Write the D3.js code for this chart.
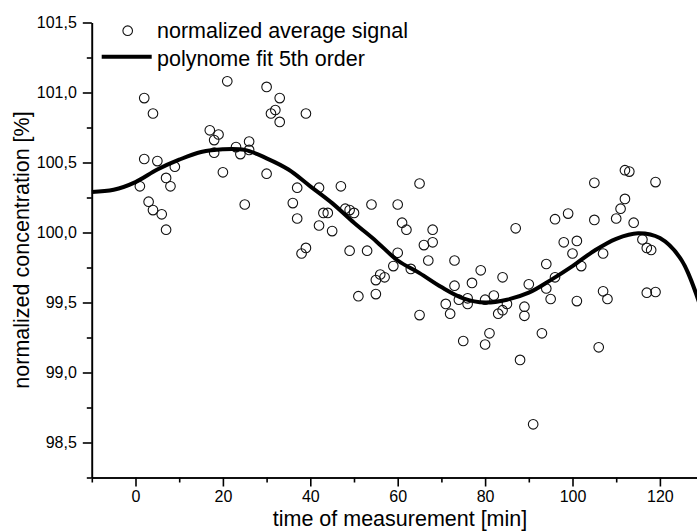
<!DOCTYPE html>
<html>
<head>
<meta charset="utf-8">
<script src="https://cdn.jsdelivr.net/npm/d3@7"></script>
<style>
    body { margin: 0; background: #fff; }
    #chart-area svg { display: block; }
    .axis text { font-family: "Liberation Sans", Arial, sans-serif; font-size: 16px; fill: #000; }
    .axis path, .axis line { stroke: #000; stroke-width: 1.6px; }
    .title-text { font-family: "Liberation Sans", Arial, sans-serif; font-size: 21.5px; fill: #000; }
</style>
</head>
<body>
<div id="chart-area"></div>
<script>
// measured points (time in min, normalized signal in %)
const timeValues = [
    1, 2, 2, 3, 4, 4, 5, 6, 7, 7, 8, 9,
    17, 18, 18, 19, 20, 21, 23, 24, 25, 26, 26, 30, 30, 31, 32, 33, 33,
    36, 37, 37, 38, 39, 39, 42, 42, 43, 44, 45, 47, 48, 49, 49, 50,
    51, 53, 54, 55, 55, 56, 57, 59, 60, 60, 61, 62, 63, 65, 65, 66, 67, 68, 68,
    71, 72, 73, 73, 74, 75, 76, 76, 77, 79, 80, 80, 81, 82, 83, 84, 84, 85,
    87, 88, 89, 89, 90, 91, 93, 94, 94, 95, 96, 96, 98, 99, 100, 101, 101, 102,
    105, 105, 106, 107, 107, 108, 110, 111, 112, 112, 113, 114, 116, 117, 117, 118, 119, 119
];
const signalValues = [
    100.33, 100.96, 100.525, 100.22, 100.85, 100.16, 100.51, 100.13, 100.39, 100.02, 100.33, 100.47,
    100.73, 100.66, 100.57, 100.70, 100.43, 101.08, 100.61, 100.56, 100.20, 100.65, 100.59, 101.04, 100.42, 100.85, 100.875, 100.96, 100.79,
    100.21, 100.32, 100.10, 99.85, 100.85, 99.89, 100.32, 100.05, 100.14, 100.14, 100.01, 100.33, 100.17, 100.16, 99.87, 100.14,
    99.545, 99.87, 100.20, 99.66, 99.56, 99.70, 99.68, 99.76, 100.20, 99.855, 100.07, 100.02, 99.74, 100.35, 99.41, 99.91, 99.80, 100.02, 99.93,
    99.49, 99.42, 99.80, 99.62, 99.52, 99.225, 99.49, 99.53, 99.64, 99.73, 99.52, 99.20, 99.28, 99.55, 99.42, 99.68, 99.445, 99.49,
    100.03, 99.09, 99.47, 99.405, 99.63, 98.63, 99.28, 99.775, 99.60, 99.525, 100.095, 99.68, 99.93, 100.135, 99.85, 99.94, 99.51, 99.76,
    100.355, 100.09, 99.18, 99.85, 99.58, 99.525, 100.10, 100.17, 100.445, 100.24, 100.435, 100.07, 99.95, 99.89, 99.57, 99.875, 100.36, 99.575
];

// fit curve
const fitTimes = [-10, -5, 0, 5, 10, 15, 20, 25, 30, 35, 40, 45, 50, 55, 60, 65, 70, 75, 80, 85, 90, 95, 100, 105, 110, 115, 120, 125, 130];
const fitValues = [100.29, 100.305, 100.36, 100.45, 100.52, 100.575, 100.595, 100.59, 100.53, 100.45, 100.33, 100.21, 100.07, 99.94, 99.80, 99.71, 99.61, 99.53, 99.50, 99.52, 99.57, 99.66, 99.76, 99.87, 99.955, 99.995, 99.96, 99.80, 99.40];

// ticks
const xTickValues = [0, 20, 40, 60, 80, 100, 120];
const xMinorTicks = [-10, 10, 30, 50, 70, 90, 110, 130];
const yTickValues = [98.5, 99.0, 99.5, 100.0, 100.5, 101.0, 101.5];
const yMinorTicks = [98.25, 98.75, 99.25, 99.75, 100.25, 100.75, 101.25];

const legendLabels = ["normalized average signal", "polynome fit 5th order"];

class ScatterFitVis {
    constructor(_parentElement) {
        this.parentElement = _parentElement;
        this.initVis();
    }

    initVis() {
        let vis = this;

        vis.margin = { top: 22.5, right: -6.6, bottom: 53.5, left: 91.8 };
        vis.totalWidth = 697;
        vis.totalHeight = 531;
        vis.width = vis.totalWidth - vis.margin.left - vis.margin.right;
        vis.height = vis.totalHeight - vis.margin.top - vis.margin.bottom;

        vis.svg = d3.select(`#${vis.parentElement}`)
            .append("svg")
            .attr("width", vis.totalWidth)
            .attr("height", vis.totalHeight)
            .append("g")
            .attr("transform", `translate(${vis.margin.left},${vis.margin.top})`);

        // Scales
        vis.x = d3.scaleLinear().domain([-10, 130]).range([0, vis.width]);
        vis.y = d3.scaleLinear().domain([98.25, 101.5]).range([vis.height, 0]);

        const comma = d => d3.format(".1f")(d).replace(".", ",");

        // minor ticks first, then the major axes on top
        vis.svg.append("g")
            .attr("class", "axis x-minor")
            .attr("transform", `translate(0,${vis.height})`)
            .call(d3.axisBottom(vis.x).tickValues(xMinorTicks).tickSize(5).tickSizeOuter(0).tickFormat(""));

        vis.svg.append("g")
            .attr("class", "axis y-minor")
            .call(d3.axisLeft(vis.y).tickValues(yMinorTicks).tickSize(5).tickSizeOuter(0).tickFormat(""));

        vis.xAxisGroup = vis.svg.append("g")
            .attr("class", "axis x-axis")
            .attr("transform", `translate(0,${vis.height})`)
            .call(d3.axisBottom(vis.x).tickValues(xTickValues).tickSize(9).tickSizeOuter(0).tickPadding(4));

        vis.yAxisGroup = vis.svg.append("g")
            .attr("class", "axis y-axis")
            .call(d3.axisLeft(vis.y).tickValues(yTickValues).tickSize(9).tickSizeOuter(0).tickPadding(6).tickFormat(comma));

        vis.svg.selectAll(".axis").attr("font-family", null).attr("font-size", null);

        // X-Axis label
        vis.svg.append("text")
            .attr("class", "title-text")
            .attr("x", 400 - vis.margin.left)
            .attr("y", 526 - vis.margin.top)
            .attr("text-anchor", "middle")
            .text("time of measurement [min]");

        // Y-Axis label
        vis.svg.append("text")
            .attr("class", "title-text")
            .attr("transform", "rotate(-90)")
            .attr("x", -vis.height / 2)
            .attr("y", 29 - vis.margin.left)
            .attr("text-anchor", "middle")
            .text("normalized concentration [%]");

        vis.wrangleData();
    }

    wrangleData() {
        let vis = this;
        vis.displayData = timeValues.map((t, i) => ({ time: t, value: signalValues[i] }));
        vis.fitData = fitTimes.map((t, i) => ({ time: t, value: fitValues[i] }));
        vis.updateVis();
    }

    updateVis() {
        let vis = this;

        vis.svg.selectAll("circle.dot")
            .data(vis.displayData)
            .enter().append("circle")
            .attr("class", "dot")
            .attr("cx", d => vis.x(d.time))
            .attr("cy", d => vis.y(d.value))
            .attr("r", 4.8)
            .attr("fill", "none")
            .attr("stroke", "#111")
            .attr("stroke-width", 1.1);

        let line = d3.line()
            .x(d => vis.x(d.time))
            .y(d => vis.y(d.value))
            .curve(d3.curveCatmullRom);

        vis.svg.append("path")
            .datum(vis.fitData)
            .attr("d", line)
            .attr("fill", "none")
            .attr("stroke", "#000")
            .attr("stroke-width", 4);

        // legend
        const legend = vis.svg.append("g")
            .attr("transform", `translate(${-vis.margin.left},${-vis.margin.top})`);

        legend.append("circle")
            .attr("cx", 127.7)
            .attr("cy", 30.7)
            .attr("r", 4.8)
            .attr("fill", "none")
            .attr("stroke", "#111")
            .attr("stroke-width", 1.1);

        legend.append("line")
            .attr("x1", 101.7)
            .attr("x2", 151.7)
            .attr("y1", 56.7)
            .attr("y2", 56.7)
            .attr("stroke", "#000")
            .attr("stroke-width", 4);

        legend.selectAll("text.legend-label")
            .data(legendLabels)
            .enter().append("text")
            .attr("class", "title-text legend-label")
            .attr("x", 157)
            .attr("y", (d, i) => 37.7 + i * 28.5)
            .text(d => d);
    }
}

new ScatterFitVis("chart-area");
</script>
</body>
</html>
